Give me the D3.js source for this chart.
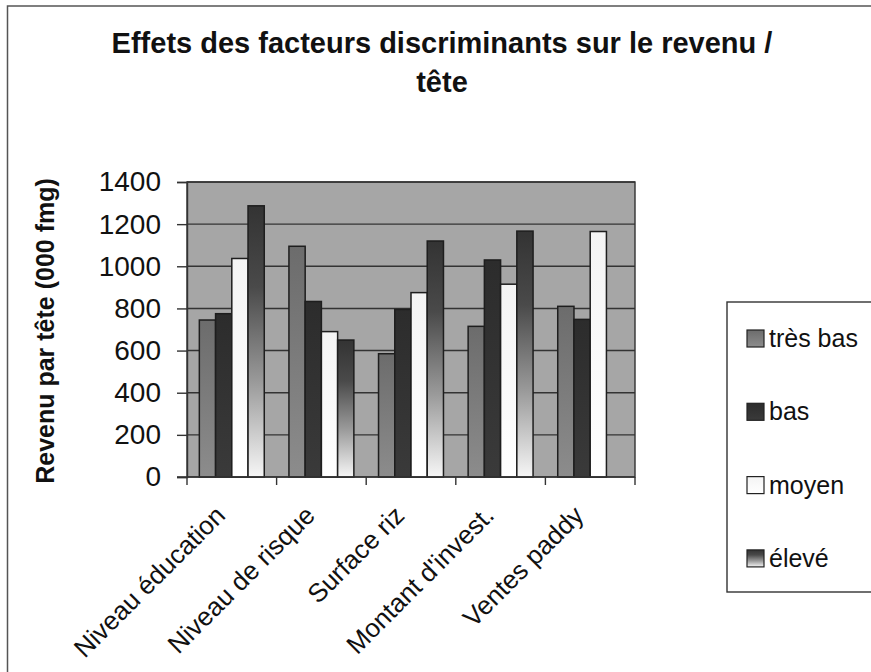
<!DOCTYPE html>
<html>
<head>
<meta charset="utf-8">
<script src="https://cdn.jsdelivr.net/npm/d3@7"></script>
<style>
  html, body { margin: 0; padding: 0; background: #fff; }
  svg { display: block; }
  text { font-family: "Liberation Sans", Arial, sans-serif; fill: #111; }
</style>
</head>
<body>
<svg id="chart" width="871" height="672"></svg>
<script>
const categories = ["Niveau éducation", "Niveau de risque", "Surface riz", "Montant d'invest.", "Ventes paddy"];
const seriesNames = ["très bas", "bas", "moyen", "élevé"];
const tresBas = [745, 1095, 585, 715, 810];
const bas     = [775, 833, 795, 1030, 748];
const moyen   = [1037, 690, 875, 915, 1165];
const eleve   = [1287, 650, 1120, 1167, null];
const yTicks  = [0, 200, 400, 600, 800, 1000, 1200, 1400];
const titleLines = ["Effets des facteurs discriminants sur le revenu /", "tête"];
const yTitle = "Revenu par tête (000 fmg)";

const seriesValues = [tresBas, bas, moyen, eleve];

const svg = d3.select("#chart");
const defs = svg.append("defs");

function grad(id, stops) {
  const g = defs.append("linearGradient").attr("id", id)
    .attr("x1", 0).attr("y1", 0).attr("x2", 0).attr("y2", 1);
  stops.forEach(s => g.append("stop").attr("offset", s[0]).attr("stop-color", s[1]));
}
grad("g0", [[0, "#6c6c6c"], [1, "#8c8c8c"]]);
grad("g1", [[0, "#2c2c2c"], [1, "#3a3a3a"]]);
grad("g2", [[0, "#f4f4f4"], [1, "#ffffff"]]);
grad("g3", [[0, "#333333"], [0.3, "#4a4a4a"], [0.65, "#9a9a9a"], [1, "#f6f6f6"]]);
const fills = ["url(#g0)", "url(#g1)", "url(#g2)", "url(#g3)"];

// outer chart border
svg.append("rect").attr("x", 7.5).attr("y", 6).attr("width", 900).attr("height", 700)
  .attr("fill", "none").attr("stroke", "#555").attr("stroke-width", 1.5);

const plot = {left: 187, right: 635, top: 182, bottom: 477};

const x0 = d3.scaleBand().domain(categories).range([plot.left, plot.right]).paddingInner(0).paddingOuter(0);
const x1 = d3.scaleBand().domain(seriesNames).range([0, x0.bandwidth()]).paddingInner(0).paddingOuter(0.76);
const y = d3.scaleLinear().domain([0, 1400]).range([plot.bottom, plot.top]);

// plot background
svg.append("rect").attr("x", plot.left).attr("y", plot.top)
  .attr("width", plot.right - plot.left).attr("height", plot.bottom - plot.top)
  .attr("fill", "#a6a6a6");

// gridlines
svg.append("g").selectAll("line").data(yTicks.filter(d => d > 0)).join("line")
  .attr("x1", plot.left).attr("x2", plot.right)
  .attr("y1", d => y(d)).attr("y2", d => y(d))
  .attr("stroke", "#333").attr("stroke-width", 1.4);

// plot border
svg.append("rect").attr("x", plot.left).attr("y", plot.top)
  .attr("width", plot.right - plot.left).attr("height", plot.bottom - plot.top)
  .attr("fill", "none").attr("stroke", "#333").attr("stroke-width", 1.4);

// bars
const barData = [];
categories.forEach((c, ci) => {
  seriesNames.forEach((s, si) => {
    const v = seriesValues[si][ci];
    if (v != null) barData.push({c, s, si, v});
  });
});
svg.append("g").selectAll("rect").data(barData).join("rect")
  .attr("x", d => x0(d.c) + x1(d.s))
  .attr("y", d => y(d.v))
  .attr("width", x1.bandwidth())
  .attr("height", d => y(0) - y(d.v))
  .attr("fill", d => fills[d.si])
  .attr("stroke", "#1e1e1e").attr("stroke-width", 1.5);

// y axis
const yAxis = d3.axisLeft(y).tickValues(yTicks).tickSize(10).tickPadding(16).tickFormat(d3.format("d"));
const gy = svg.append("g").attr("transform", `translate(${plot.left},0)`).call(yAxis);
gy.select(".domain").attr("stroke", "#333").attr("stroke-width", 1.4);
gy.selectAll(".tick line").attr("stroke", "#333").attr("stroke-width", 1.4);
gy.selectAll(".tick text").attr("font-size", 28).attr("fill", "#222")
  .style("font-family", '"Liberation Sans", Arial, sans-serif');

// x axis (ticks at category boundaries)
const gx = svg.append("g").attr("transform", `translate(0,${plot.bottom})`);
gx.append("line").attr("x1", plot.left - 10).attr("x2", plot.right).attr("y1", 0).attr("y2", 0)
  .attr("stroke", "#333").attr("stroke-width", 1.4);
const bounds = categories.map(c => x0(c)).concat([x0(categories[categories.length - 1]) + x0.bandwidth()]);
gx.selectAll("line.tk").data(bounds).join("line").attr("class", "tk")
  .attr("x1", d => d).attr("x2", d => d).attr("y1", 0).attr("y2", 8)
  .attr("stroke", "#333").attr("stroke-width", 1.4);
gx.selectAll("text").data(categories).join("text")
  .attr("transform", d => `translate(${x0(d) + x0.bandwidth() / 2 - 5},40) rotate(-45)`)
  .attr("text-anchor", "end")
  .attr("font-size", 26)
  .attr("fill", "#222")
  .text(d => d);

// title
svg.append("g").selectAll("text").data(titleLines).join("text")
  .attr("x", 442).attr("y", (d, i) => 53 + i * 39)
  .attr("text-anchor", "middle")
  .attr("font-size", 29).attr("font-weight", "bold").attr("fill", "#222")
  .text(d => d);

// y title
svg.append("text")
  .attr("transform", "translate(54,331) rotate(-90)")
  .attr("text-anchor", "middle")
  .attr("font-size", 25).attr("font-weight", "bold").attr("fill", "#222")
  .text(yTitle);

// legend
const lg = svg.append("g");
lg.append("rect").attr("x", 727).attr("y", 302).attr("width", 200).attr("height", 290)
  .attr("fill", "#fff").attr("stroke", "#333").attr("stroke-width", 1.4);
const items = lg.selectAll("g").data(seriesNames).join("g")
  .attr("transform", (d, i) => `translate(747,${330 + i * 73.3})`);
items.append("rect").attr("width", 17).attr("height", 17)
  .attr("fill", (d, i) => fills[i]).attr("stroke", "#222").attr("stroke-width", 1.2);
items.append("text").attr("x", 22).attr("y", 17)
  .attr("font-size", 25).attr("fill", "#222").text(d => d);
</script>
</body>
</html>
